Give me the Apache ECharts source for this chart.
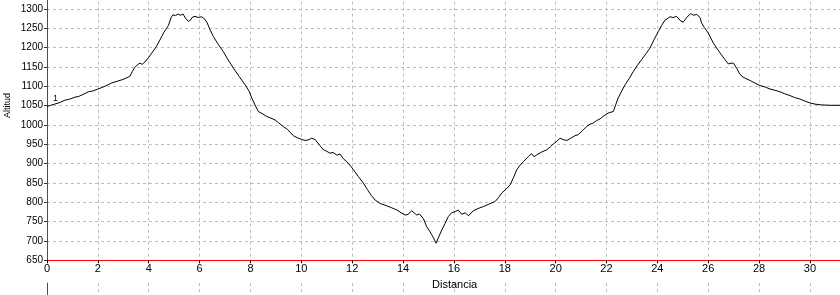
<!DOCTYPE html>
<html>
<head>
<meta charset="utf-8">
<script src="https://cdn.jsdelivr.net/npm/echarts@6/dist/echarts.min.js"></script>
<style>
html,body{margin:0;padding:0;background:#fff;}
#c{width:840px;height:295px;}
</style>
</head>
<body>
<div id="c"></div>
<script>
var distancia = [
0.0,0.15,0.3,0.5,0.7,0.9,1.1,1.25,1.45,1.63,1.8,2.0,2.2,2.4,2.55,2.75,2.95,3.1,3.26,3.35,3.45,3.58,3.66,3.75,3.85,4.0,4.12,4.3,4.44,4.6,4.77,4.88,4.95,5.05,5.15,5.25,5.35,5.45,5.56,5.65,5.72,5.82,5.95,6.08,6.2,6.3,6.4,6.54,6.7,6.93,7.1,7.33,7.55,7.79,7.95,8.05,8.2,8.31,8.45,8.64,8.8,8.97,9.1,9.29,9.45,9.69,9.85,10.0,10.15,10.3,10.41,10.55,10.74,10.87,11.0,11.13,11.25,11.4,11.52,11.65,11.79,11.95,12.05,12.25,12.44,12.6,12.75,12.9,13.1,13.36,13.55,13.76,13.95,14.08,14.2,14.34,14.45,14.54,14.64,14.71,14.8,14.93,15.05,15.13,15.22,15.3,15.4,15.52,15.65,15.78,15.91,16.05,16.17,16.31,16.45,16.57,16.76,16.95,17.16,17.4,17.62,17.75,17.88,18.05,18.21,18.35,18.47,18.6,18.73,18.93,19.05,19.15,19.26,19.45,19.65,19.8,19.91,20.05,20.17,20.3,20.44,20.6,20.75,20.89,21.05,21.22,21.35,21.48,21.6,21.75,21.9,22.07,22.27,22.36,22.46,22.6,22.73,22.9,23.06,23.2,23.38,23.55,23.71,23.88,24.04,24.17,24.3,24.5,24.62,24.76,24.9,25.02,25.15,25.31,25.42,25.55,25.68,25.74,25.85,26.0,26.2,26.47,26.65,26.79,26.9,26.99,27.12,27.22,27.32,27.48,27.65,27.85,28.04,28.25,28.43,28.62,28.82,29.0,29.22,29.4,29.61,29.8,30.0,30.2,30.46,30.8,31.2
];
var altitud = [
1048,1051,1054,1058,1064,1067,1072,1074,1080,1086,1088,1093,1098,1104,1109,1113,1117,1121,1126,1138,1149,1157,1160,1157,1163,1175,1186,1203,1220,1240,1257,1278,1285,1283,1287,1284,1287,1276,1268,1272,1279,1281,1278,1280,1274,1264,1248,1229,1212,1190,1171,1147,1126,1104,1087,1070,1049,1035,1030,1022,1018,1013,1006,996,989,972,967,963,960,962,966,962,946,936,932,927,929,922,925,913,905,893,884,866,850,833,818,806,797,791,786,780,772,767,769,778,772,767,770,772,758,737,725,716,705,694,710,728,745,763,773,776,780,769,773,765,778,784,789,796,802,812,824,834,845,865,884,896,905,918,926,918,923,930,936,944,951,958,966,962,960,966,972,975,985,996,1002,1005,1011,1016,1024,1031,1035,1052,1070,1088,1104,1121,1139,1153,1169,1184,1199,1222,1242,1258,1271,1280,1278,1281,1270,1266,1278,1288,1284,1286,1278,1264,1252,1238,1212,1186,1170,1158,1160,1160,1147,1134,1126,1120,1115,1108,1102,1098,1093,1090,1086,1081,1076,1071,1067,1062,1057,1054,1052,1051,1051
];
var xName = 'Distancia';
var yName = 'Altitud';
var startLabel = '1';

var pts = distancia.map(function(d,i){ return [d, altitud[i]]; });

var chart = echarts.init(document.getElementById('c'), null, {renderer:'canvas'});
var gridColor = '#bdbdbd';
var dash = [3,3];
var font = 'Liberation Sans, Arial, sans-serif';
var plain = function(v){ return String(v); };

chart.setOption({
  animation: false,
  backgroundColor: '#ffffff',
  grid: [
    {left: 47, top: -10.3, width: 813.8, height: 270.6, containLabel: false, outerBoundsMode: 'none'},
    {left: 47, top: 283, width: 813.8, height: 12, containLabel: false, outerBoundsMode: 'none'}
  ],
  xAxis: [{
    type: 'value', gridIndex: 0, min: 0, max: 32, interval: 2,
    axisLine: {show: true, onZero: false, lineStyle: {color: '#ff0000', width: 1}},
    axisTick: {show: true, length: 3, lineStyle: {color: '#000'}},
    axisLabel: {show: true, margin: 3, color: '#000', fontSize: 11, fontFamily: font, formatter: plain},
    splitLine: {show: true, lineStyle: {color: gridColor, type: dash, width: 1}}
  },{
    type: 'value', gridIndex: 1, min: 0, max: 32, interval: 2,
    axisLine: {show: false}, axisTick: {show: false}, axisLabel: {show: false},
    splitLine: {show: true, lineStyle: {color: gridColor, type: dash, width: 1}}
  }],
  yAxis: [{
    type: 'value', gridIndex: 0, min: 650, max: 1350, interval: 50,
    axisLine: {show: true, onZero: false, lineStyle: {color: '#ff0000', width: 1}},
    axisTick: {show: true, length: 3, lineStyle: {color: '#333'}},
    axisLabel: {show: true, margin: 4, color: '#000', fontSize: 10, fontFamily: font, formatter: plain},
    splitLine: {show: true, lineStyle: {color: gridColor, type: dash, width: 1}}
  },{
    type: 'value', gridIndex: 1, min: 0, max: 1,
    axisLine: {show: true, onZero: false, lineStyle: {color: '#ff0000', width: 1}},
    axisTick: {show: false}, axisLabel: {show: false}, splitLine: {show: false}
  }],
  series: [{
    type: 'line', xAxisIndex: 0, yAxisIndex: 0,
    data: pts, showSymbol: false, symbol: 'none',
    lineStyle: {color: '#000', width: 1},
    label: {show: false},
    markPoint: {
      symbol: 'circle', symbolSize: 0,
      data: [{coord: pts[0], value: startLabel}],
      label: {show: true, formatter: startLabel, position: 'insideLeft', offset: [1, -8], color: '#000', fontSize: 9, fontFamily: font}
    }
  }],
  graphic: [
    {type: 'text', left: 432, top: 279, z: 10,
     style: {text: xName, fill: '#000', font: '11px ' + font}},
    {type: 'text', x: 3, y: 118, rotation: Math.PI/2, z: 10,
     style: {text: yName, fill: '#000', font: '9px ' + font}}
  ]
});
</script>
</body>
</html>
